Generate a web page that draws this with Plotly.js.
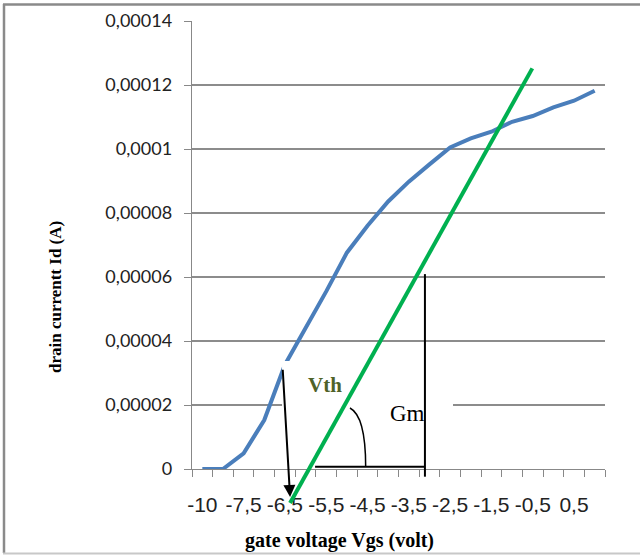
<!DOCTYPE html>
<html>
<head>
<meta charset="utf-8">
<script src="https://cdn.plot.ly/plotly-3.0.1.min.js"></script>
<style>
html,body{margin:0;padding:0;background:#fff;}
#chart{width:640px;height:555px;}
</style>
</head>
<body>
<div id="chart"></div>
<script>
// ---- data ----
const gateVoltage = ["-10","-8","-7,5","-7","-6,5","-6","-5,5","-5","-4,5","-4","-3,5","-3","-2,5","-2","-1,5","-1","-0,5","0","0,5","1"];
const drainCurrent = [0, 0, 4.9e-6, 1.53e-5, 3.26e-5, 4.40e-5, 5.55e-5, 6.76e-5, 7.6e-5, 8.36e-5, 8.98e-5, 9.52e-5, 1.005e-4, 1.033e-4, 1.054e-4, 1.085e-4, 1.103e-4, 1.13e-4, 1.151e-4, 1.182e-4];
const xTickText = ["-10","","-7,5","","-6,5","","-5,5","","-4,5","","-3,5","","-2,5","","-1,5","","-0,5","","0,5",""];
const yTickVals = [0, 0.00002, 0.00004, 0.00006, 0.00008, 0.0001, 0.00012, 0.00014];
const yTickText = ["0","0,00002","0,00004","0,00006","0,00008","0,0001","0,00012","0,00014"];

// ---- layout ----
const xRange = [-0.5, 19.5];
const yRange = [0, 0.00014];
const L = 192, R = 35, T = 21, B = 86, W = 640, H = 555;
const pw = W - L - R, ph = H - T - B;
const px = c => (c - xRange[0]) / (xRange[1] - xRange[0]);
const py = v => (v - yRange[0]) / (yRange[1] - yRange[0]);
const pixX = x => (x - L) / pw;
const pixY = y => (H - B - y) / ph;

// overlay drawing positions (category index, current)
const tangent = {x0: 4.25, y0: -1.06e-5, x1: 15.98, y1: 1.252e-4};
const box = {x0: 3.86, y0: 1.6e-6, x1: 12.14, y1: 3.375e-5};
const horiz = {x0: 5.46, x1: 10.78, y: 7.2e-7};
const vert = {x: 10.78, y0: -2.4e-6, y1: 6.09e-5};
const arc = {x0: 7.15, y0: 1.906e-5, cx: 7.91, cy: 1.65e-5, x1: 7.91, y1: 7.2e-7};
const arrow = {tx: 3.89, ty: 3.15e-5, hx: 4.25, hy: -8.75e-6};

const trace = {
  x: gateVoltage, y: drainCurrent, type: 'scatter', mode: 'lines',
  line: {color: '#4a7ebb', width: 4}, hoverinfo: 'skip'
};

const shapes = [
  // white label box
  {type:'rect', xref:'paper', yref:'paper', x0:px(box.x0), x1:px(box.x1), y0:py(box.y0), y1:py(box.y1),
   fillcolor:'#ffffff', line:{width:0}, layer:'above'},
  // tangent line
  {type:'line', xref:'paper', yref:'paper', x0:px(tangent.x0), y0:py(tangent.y0), x1:px(tangent.x1), y1:py(tangent.y1),
   line:{color:'#00b050', width:4}, layer:'above'},
  {type:'line', xref:'paper', yref:'paper', x0:px(horiz.x0), y0:py(horiz.y), x1:px(horiz.x1), y1:py(horiz.y),
   line:{color:'#000', width:2}, layer:'above'},
  {type:'line', xref:'paper', yref:'paper', x0:px(vert.x), y0:py(vert.y0), x1:px(vert.x), y1:py(vert.y1),
   line:{color:'#000', width:2}, layer:'above'},
  {type:'path', xref:'paper', yref:'paper',
   path:`M ${px(arc.x0)} ${py(arc.y0)} Q ${px(arc.cx)} ${py(arc.cy)} ${px(arc.x1)} ${py(arc.y1)}`,
   line:{color:'#000', width:1.5}, layer:'above'},
  // outer frame
  {type:'line', xref:'paper', yref:'paper', x0:pixX(4), x1:pixX(4), y0:pixY(4), y1:pixY(553),
   line:{color:'#8a8a8a', width:2.5}, layer:'above'},
  {type:'line', xref:'paper', yref:'paper', x0:pixX(3), x1:pixX(645), y0:pixY(4.5), y1:pixY(4.5),
   line:{color:'#8a8a8a', width:2.5}, layer:'above'},
  {type:'line', xref:'paper', yref:'paper', x0:pixX(3), x1:pixX(645), y0:pixY(553.5), y1:pixY(553.5),
   line:{color:'#c8c8c8', width:2}, layer:'above'}
];

const annotations = [
  {xref:'paper', yref:'paper', x:px(arrow.hx), y:py(arrow.hy), ax:px(arrow.tx), ay:py(arrow.ty),
   axref:'paper', ayref:'paper', text:'', showarrow:true, arrowhead:2, arrowsize:1.2, arrowwidth:2, arrowcolor:'#000'},
  {xref:'paper', yref:'paper', x:px(5.94), y:py(2.625e-5), xanchor:'center', yanchor:'middle',
   text:'<b>Vth</b>', showarrow:false,
   font:{family:'Liberation Serif', size:21, color:'#4f6228'}},
  {xref:'paper', yref:'paper', x:px(9.96), y:py(1.72e-5), xanchor:'center', yanchor:'middle',
   text:'Gm', showarrow:false,
   font:{family:'Liberation Serif', size:23, color:'#000'}},
  {xref:'paper', yref:'paper', x:pixX(55), y:pixY(297), xanchor:'center', yanchor:'middle',
   text:'<b>drain currentt Id (A)</b>', showarrow:false,
   textangle:-90, font:{family:'Liberation Serif', size:17, color:'#000'}},
  {xref:'paper', yref:'paper', x:pixX(339.5), y:pixY(540), xanchor:'center', yanchor:'middle',
   text:'<b>gate voltage Vgs (volt)</b>', showarrow:false,
   font:{family:'Liberation Serif', size:20, color:'#000'}}
];

const layout = {
  width: W, height: H,
  margin: {l: L, r: R, t: T, b: B, pad: 0},
  paper_bgcolor: '#ffffff', plot_bgcolor: '#ffffff',
  showlegend: false,
  xaxis: {
    type: 'category', range: xRange, tickmode: 'array', tickvals: gateVoltage, ticktext: xTickText,
    tickson: 'boundaries', ticks: 'outside', ticklen: 7, tickcolor: '#888', tickwidth: 1,
    showline: true, linecolor: '#888', linewidth: 1.3, showgrid: false, zeroline: false,
    tickangle: 0, ticklabelstandoff: 16,
    tickfont: {family: 'Liberation Sans', size: 21, color: '#222'}
  },
  yaxis: {
    range: yRange, tickmode: 'array', tickvals: yTickVals, ticktext: yTickText,
    ticks: 'outside', ticklen: 7, tickcolor: '#888', tickwidth: 1,
    showline: true, linecolor: '#888', linewidth: 1.3,
    showgrid: true, gridcolor: '#8c8c8c', gridwidth: 1.3, zeroline: false,
    ticklabelstandoff: 8,
    tickfont: {family: 'Lato', size: 18, color: '#222'}
  },
  shapes: shapes,
  annotations: annotations
};

Plotly.newPlot('chart', [trace], layout, {displayModeBar: false, staticPlot: true});
</script>
</body>
</html>
